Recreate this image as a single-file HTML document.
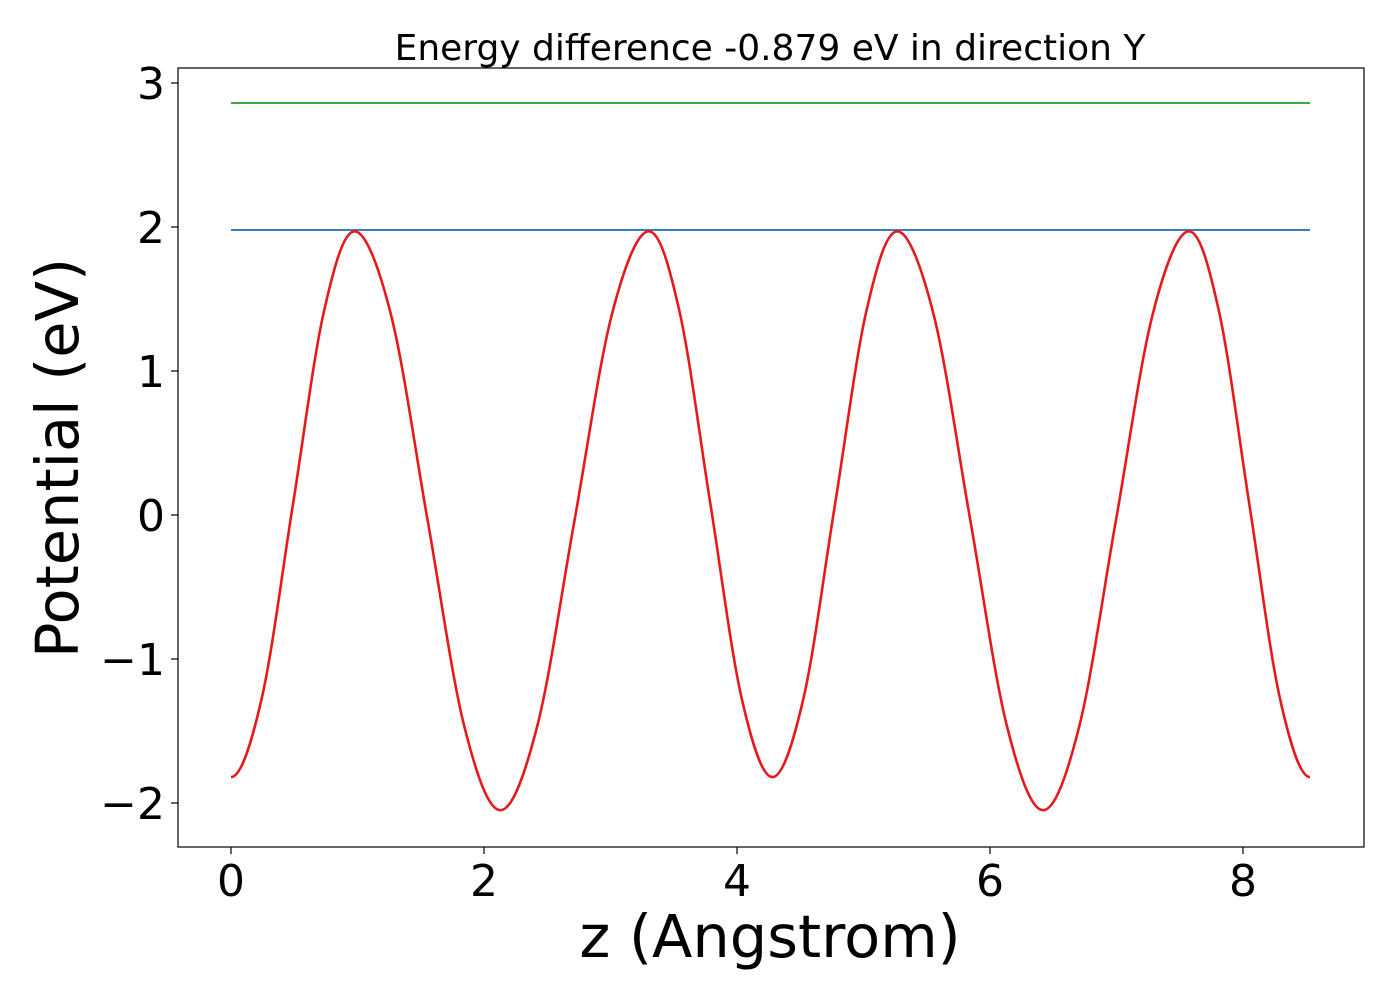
<!DOCTYPE html>
<html><head><meta charset="utf-8"><style>
html,body{margin:0;padding:0;background:#fff;}
svg text{font-family:"DejaVu Sans","Liberation Sans",sans-serif;fill:#000;}
</style></head><body>
<svg id="chart" width="1400" height="1000" xmlns="http://www.w3.org/2000/svg">
<rect x="0" y="0" width="1400" height="1000" fill="#fff"/>
<g id="plot"></g>
<rect x="178" y="68" width="1186" height="779" fill="none" stroke="#000" stroke-width="1.2"/>
<g id="xt"></g>
<g id="yt"></g>
<text x="770" y="60" font-size="36" text-anchor="middle">Energy difference -0.879 eV in direction Y</text>
<text x="770" y="957" font-size="59" text-anchor="middle">z (Angstrom)</text>
<text transform="translate(78,458) rotate(-90)" font-size="59" text-anchor="middle">Potential (eV)</text>
</svg>
<script>
const zPoints = [0,0.245,0.49,0.735,0.98,1.2675,1.555,1.8425,2.13,2.4225,2.715,3.0075,3.3,3.545,3.79,4.035,4.28,4.5275,4.775,5.0225,5.27,5.5575,5.845,6.1325,6.42,6.7075,6.995,7.2825,7.57,7.81,8.05,8.29,8.53];
const potential = [-1.82,-1.265,0.075,1.415,1.97,1.381,-0.04,-1.461,-2.05,-1.461,-0.04,1.381,1.97,1.415,0.075,-1.265,-1.82,-1.265,0.075,1.415,1.97,1.381,-0.04,-1.461,-2.05,-1.461,-0.04,1.381,1.97,1.415,0.075,-1.265,-1.82];
const levels = [1.979, 2.861];
const levelColors = ['#3a7dc0','#3aaa3a'];
const xTicks = [0,2,4,6,8];
const yTicks = [-2,-1,0,1,2,3];
const NS='http://www.w3.org/2000/svg';
const X = v => 231 + v*126.5;
const Y = v => 515 - v*144;
const plot = document.getElementById('plot');
function mk(tag, attrs, parent){const e=document.createElementNS(NS,tag);for(const k in attrs)e.setAttribute(k,attrs[k]);parent.appendChild(e);return e;}
const zmin=zPoints[0], zmax=zPoints[zPoints.length-1];
levels.forEach((lv,i)=>{
  const l=mk('line',{x1:X(zmin),x2:X(zmax),y1:Y(lv),y2:Y(lv),stroke:levelColors[i],'stroke-width':2},plot);
  
  
});
const P=zPoints.map((z,i)=>[X(z),Y(potential[i])]);
const n=P.length;
const ghostStart=[2*P[0][0]-P[1][0],P[1][1]];
const ghostEnd=[2*P[n-1][0]-P[n-2][0],P[n-2][1]];
let d='M'+P[0][0]+','+P[0][1];
for(let i=0;i<n-1;i++){
  const p0=i===0?ghostStart:P[i-1],p1=P[i],p2=P[i+1],p3=i+2>n-1?ghostEnd:P[i+2];
  const c1=[p1[0]+(p2[0]-p0[0])/6,p1[1]+(p2[1]-p0[1])/6];
  const c2=[p2[0]-(p3[0]-p1[0])/6,p2[1]-(p3[1]-p1[1])/6];
  d+=` C${c1[0]},${c1[1]} ${c2[0]},${c2[1]} ${p2[0]},${p2[1]}`;
}
const curve=mk('path',{d:d,fill:'none',stroke:'#e41a1c','stroke-width':2.6},plot);


const xt=document.getElementById('xt'), yt=document.getElementById('yt');
xTicks.forEach(v=>{
  const t=mk('line',{x1:X(v),x2:X(v),y1:847,y2:854,stroke:'#000','stroke-width':1.2},xt);
  
  
  const tx=mk('text',{x:X(v),y:896,'font-size':44,'text-anchor':'middle'},xt);
  tx.textContent=String(v);
  
  
});
yTicks.forEach(v=>{
  const t=mk('line',{x1:171,x2:178,y1:Y(v),y2:Y(v),stroke:'#000','stroke-width':1.2},yt);
  
  
  const tx=mk('text',{x:165,y:Y(v)+16,'font-size':44,'text-anchor':'end'},yt);
  tx.textContent=v<0?'\u2212'+Math.abs(v):String(v);
  
  
});
</script>
</body></html>
